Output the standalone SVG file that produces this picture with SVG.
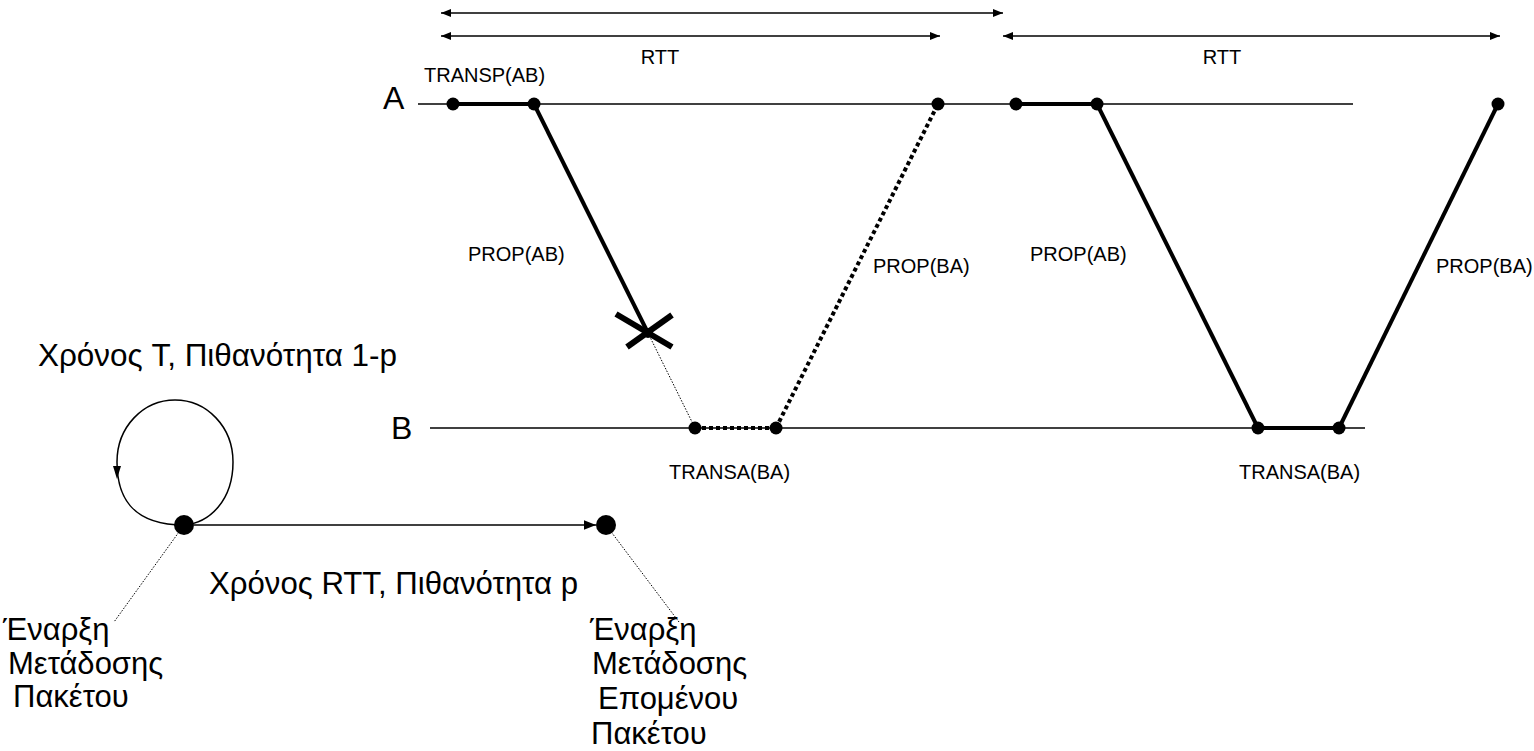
<svg xmlns="http://www.w3.org/2000/svg" width="1534" height="751" viewBox="0 0 1534 751">
<defs>
<style>
text{font-family:"Liberation Sans",Arial,sans-serif;fill:#000}
.lbl{font-size:20px}
.big{font-size:31px}
.ax{font-size:32px}
.thin{stroke:#000;stroke-width:1.5;fill:none}
.thick{stroke:#000;stroke-width:4;fill:none}
.dash{stroke:#000;stroke-width:4;stroke-dasharray:4 3;fill:none}
.lead{stroke:#000;stroke-width:1;stroke-dasharray:1.5 1.5;fill:none}
.dot{fill:#000}
</style>
<marker id="ah" viewBox="0 0 10 10" refX="10" refY="5" markerWidth="10" markerHeight="10" markerUnits="userSpaceOnUse" orient="auto-start-reverse">
<path d="M0,1 L10,5 L0,9 z" fill="#000"/>
</marker>
<marker id="ah2" viewBox="0 0 10 10" refX="10" refY="5" markerWidth="12" markerHeight="12" markerUnits="userSpaceOnUse" orient="auto">
<path d="M0,1 L10,5 L0,9 z" fill="#000"/>
</marker>
</defs>
<g id="timeline">
<line class="thin" x1="418" y1="104" x2="1353" y2="104"/>
<line class="thin" x1="430" y1="428" x2="1365" y2="428"/>
<text class="ax" x="383" y="109">A</text>
<text class="ax" x="391" y="439">B</text>
</g>
<g id="measures">
<line class="thin" x1="441" y1="13" x2="1003" y2="13" marker-start="url(#ah)" marker-end="url(#ah)"/>
<line class="thin" x1="441" y1="36" x2="940" y2="36" marker-start="url(#ah)" marker-end="url(#ah)"/>
<line class="thin" x1="1003" y1="36" x2="1500" y2="36" marker-start="url(#ah)" marker-end="url(#ah)"/>
<text class="lbl" x="660" y="64" text-anchor="middle">RTT</text>
<text class="lbl" x="1222" y="64" text-anchor="middle">RTT</text>
</g>
<g id="connectors">
<line class="thick" x1="453" y1="104" x2="534" y2="104"/>
<line class="thick" x1="534" y1="104" x2="648" y2="333"/>
<line class="lead" x1="648" y1="333" x2="695" y2="428"/>
<line class="dash" x1="695" y1="428" x2="776" y2="428"/>
<line class="dash" x1="776" y1="428" x2="938" y2="104"/>
<line class="thick" x1="1016" y1="104" x2="1097" y2="104"/>
<line class="thick" x1="1097" y1="104" x2="1258" y2="428"/>
<line class="thick" x1="1258" y1="428" x2="1339" y2="428"/>
<line class="thick" x1="1339" y1="428" x2="1498" y2="104"/>
</g>
<g id="loss">
<line x1="616" y1="314" x2="672" y2="347" stroke="#000" stroke-width="6"/>
<line x1="627" y1="347" x2="672" y2="315" stroke="#000" stroke-width="6"/>
</g>
<g id="dots">
<circle class="dot" cx="453" cy="104" r="6.5"/>
<circle class="dot" cx="534" cy="104" r="6.5"/>
<circle class="dot" cx="938" cy="104" r="6.5"/>
<circle class="dot" cx="1016" cy="104" r="6.5"/>
<circle class="dot" cx="1097" cy="104" r="6.5"/>
<circle class="dot" cx="1498" cy="104" r="6.5"/>
<circle class="dot" cx="648" cy="333" r="5"/>
<circle class="dot" cx="695" cy="428" r="6.5"/>
<circle class="dot" cx="776" cy="428" r="6.5"/>
<circle class="dot" cx="1258" cy="428" r="6.5"/>
<circle class="dot" cx="1339" cy="428" r="6.5"/>
</g>
<g id="labels">
<text class="lbl" x="424" y="82">TRANSP(AB)</text>
<text class="lbl" x="468" y="261">PROP(AB)</text>
<text class="lbl" x="873" y="273">PROP(BA)</text>
<text class="lbl" x="1030" y="261">PROP(AB)</text>
<text class="lbl" x="1436" y="273">PROP(BA)</text>
<text class="lbl" x="669" y="479">TRANSA(BA)</text>
<text class="lbl" x="1239" y="479">TRANSA(BA)</text>
</g>
<g id="state-start">
<path class="thin" d="M184,525 C130,525 117,495 117,462 C117,427 143,400 175,400 C207,400 233,427 233,462 C233,500 210,523 184,525"/>
<path d="M113,466 L121,466 L117,479 z" fill="#000"/>
<circle class="dot" cx="184" cy="525" r="10"/>
<line class="lead" x1="184" y1="525" x2="114" y2="622"/>
<text class="big" x="3" y="640">Έναρξη</text>
<text class="big" x="8" y="674">Μετάδοσης</text>
<text class="big" x="13" y="707">Πακέτου</text>
</g>
<g id="state-next">
<circle class="dot" cx="606" cy="525" r="10"/>
<line class="lead" x1="606" y1="525" x2="679" y2="622"/>
<text class="big" x="590" y="640">Έναρξη</text>
<text class="big" x="592" y="674">Μετάδοσης</text>
<text class="big" x="598" y="709">Επομένου</text>
<text class="big" x="591" y="744">Πακέτου</text>
</g>
<g id="transitions">
<line class="thin" x1="194" y1="525" x2="596" y2="525" marker-end="url(#ah2)"/>
<text class="big" x="38" y="366" textLength="359" lengthAdjust="spacingAndGlyphs">Χρόνος T, Πιθανότητα 1-p</text>
<text class="big" x="209" y="594" textLength="369" lengthAdjust="spacingAndGlyphs">Χρόνος RTT, Πιθανότητα p</text>
</g>
</svg>
